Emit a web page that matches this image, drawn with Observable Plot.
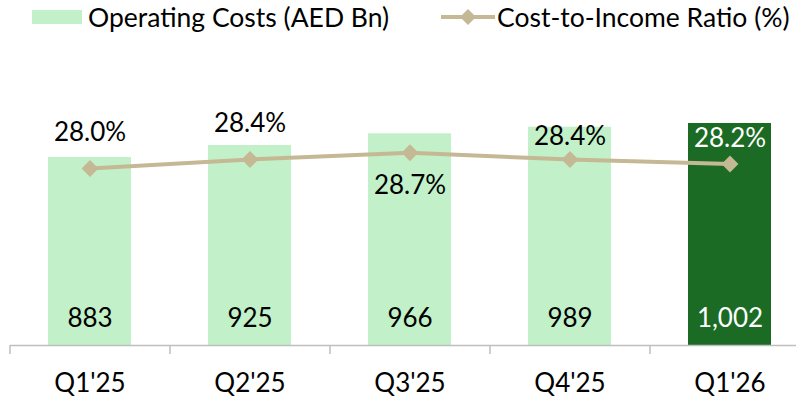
<!DOCTYPE html>
<html>
<head>
<meta charset="utf-8">
<script src="https://cdn.jsdelivr.net/npm/d3@7"></script>
<script src="https://cdn.jsdelivr.net/npm/@observablehq/plot@0.6"></script>
<style>
  body { margin: 0; background: #fff; }
  #wrap { position: relative; width: 796px; height: 400px; font-family: Lato, "Open Sans", sans-serif; }
  #legend { position: absolute; left: 0; top: 0; width: 796px; height: 34px; font-size: 26.5px; color: #000; }
  .li { position: absolute; top: 0; display: flex; align-items: center; height: 34px; white-space: nowrap; }
  #plot { position: absolute; left: 0; top: 0; }
</style>
</head>
<body>
<div id="wrap">
  <div id="plot"></div>
  <div id="legend">
    <div class="li" style="left:32px;"><span style="display:inline-block;width:50px;height:14px;background:#c2f0c8;margin-right:6px;"></span><span>Operating Costs (AED Bn)</span></div>
    <div class="li" style="left:441px;"><svg width="54" height="20" style="margin-right:2px"><line x1="0" y1="10" x2="54" y2="10" stroke="#c4b994" stroke-width="4"/><path d="M27,2 L35,10 L27,18 L19,10 Z" fill="#c4b994"/></svg><span>Cost-to-Income Ratio (%)</span></div>
  </div>
</div>
<script>
const quarters = ["Q1'25", "Q2'25", "Q3'25", "Q4'25", "Q1'26"];
const operatingCosts = [883, 925, 966, 989, 1002];
const costToIncome = [28.0, 28.4, 28.7, 28.4, 28.2];

const lightGreen = "#c2f0c8";
const darkGreen = "#1c6b24";
const tan = "#c4b994";

const data = quarters.map((q, i) => ({q, cost: operatingCosts[i], cir: costToIncome[i], last: i === quarters.length - 1}));

// secondary axis for the ratio, mapped into the bar axis units
const cirToY = d3.scaleLinear().domain([28.0, 28.7]).range([844.5, 899.6]);

const fontFamily = "Lato, 'Open Sans', sans-serif";

const pct = d => d.cir.toFixed(1) + "%";

const chart = Plot.plot({
  width: 796,
  height: 400,
  marginTop: 0,
  marginLeft: 10,
  marginRight: 0,
  marginBottom: 55,
  style: {fontFamily, fontSize: "26px", color: "#000", background: "transparent", overflow: "visible"},
  x: {type: "band", domain: quarters, range: [10, 810], paddingInner: 0.48, paddingOuter: 0.24, axis: null, label: null},
  y: {domain: [225, 1100], range: [345, 95], axis: null},
  marks: [
    Plot.barY(data, {x: "q", y1: 225, y2: "cost", fill: d => d.last ? darkGreen : lightGreen}),
    Plot.ruleY([225], {stroke: "#bfbfbf", strokeWidth: 1.5}),
    Plot.axisX({domain: quarters, tickSize: 9, dx: -80, stroke: "#bfbfbf", strokeWidth: 1.5, text: null, label: null}),
    Plot.text(data, {x: "q", frameAnchor: "bottom", dy: 38, text: "q", fontSize: 26, fill: "#000", lineAnchor: "middle"}),
    Plot.text(data, {x: "q", y: 225, dy: -27, text: d => d3.format(",")(d.cost), fontSize: 26, fill: d => d.last ? "#fff" : "#000", lineAnchor: "middle"}),
    Plot.line(data, {x: "q", y: d => cirToY(d.cir), stroke: tan, strokeWidth: 4}),
    Plot.dot(data, {x: "q", y: d => cirToY(d.cir), symbol: "diamond2", r: 7.6, fill: tan, stroke: null}),
    Plot.text(data.filter((d, i) => i === 0 || i === 1), {x: "q", y: d => cirToY(d.cir), dy: -36, text: pct, fontSize: 26, fill: "#000", lineAnchor: "middle"}),
    Plot.text(data.filter((d, i) => i === 2), {x: "q", y: d => cirToY(d.cir), dy: 33, text: pct, fontSize: 26, fill: "#000", lineAnchor: "middle"}),
    Plot.text(data.filter((d, i) => i === 3), {x: "q", y: d => cirToY(d.cir), dy: -23, text: pct, fontSize: 26, fill: "#000", lineAnchor: "middle"}),
    Plot.text(data.filter((d, i) => i === 4), {x: "q", y: d => cirToY(d.cir), dy: -25, text: pct, fontSize: 26, fill: "#fff", lineAnchor: "middle"})
  ]
});
document.getElementById("plot").appendChild(chart);
</script>
</body>
</html>
